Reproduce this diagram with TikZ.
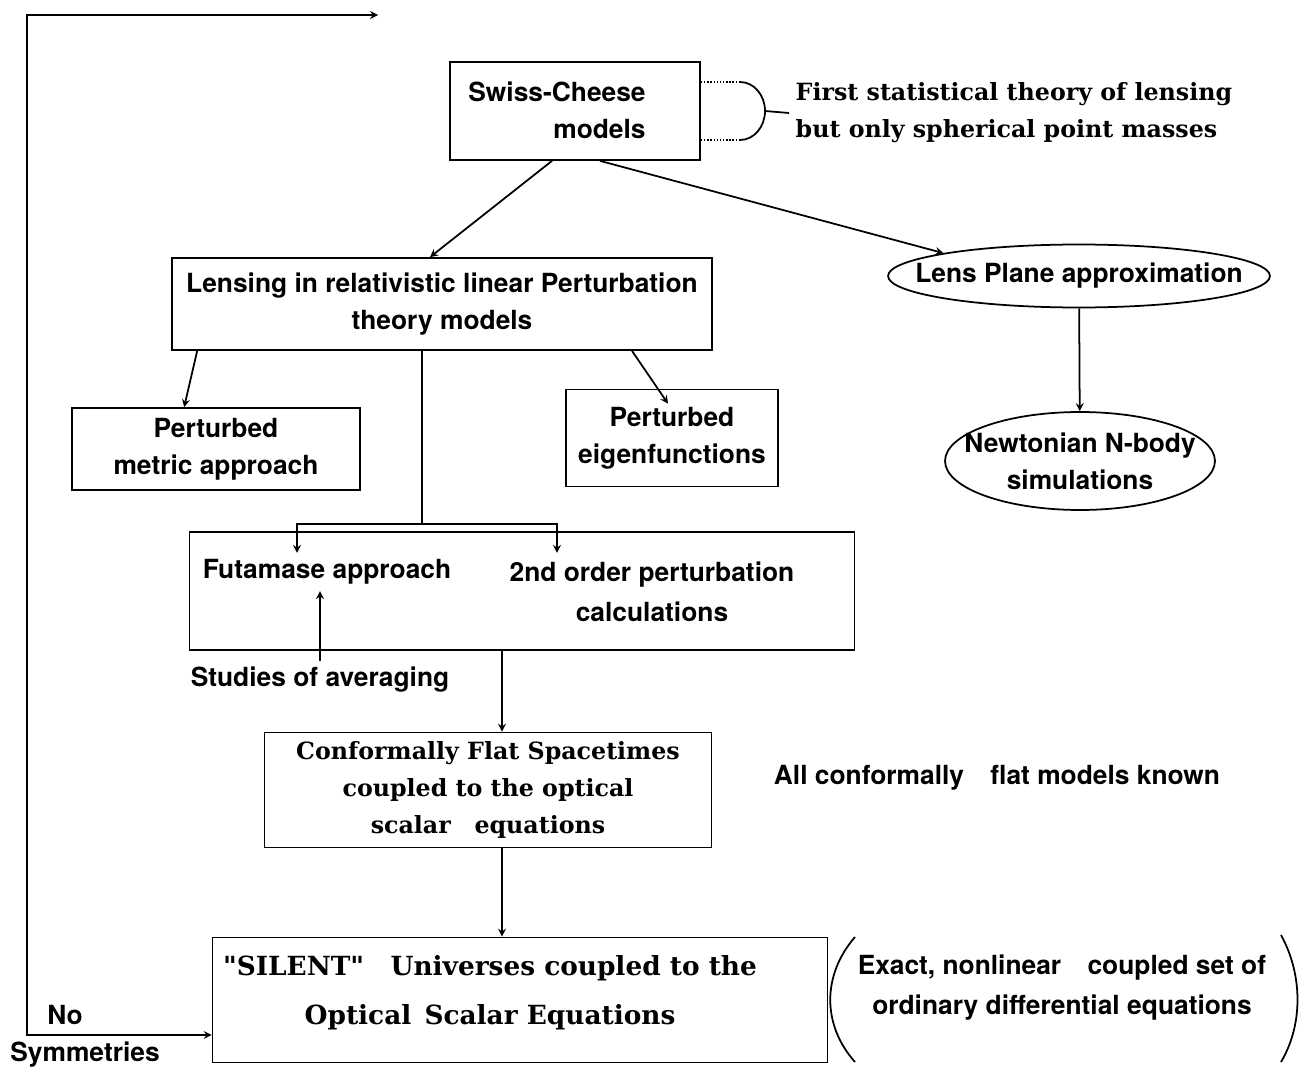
\documentclass[tikz,border=0pt]{standalone}
\usepackage{fontspec}
\setsansfont{TeX Gyre Heros}
\newfontfamily\schoolbold{DejaVu Serif}
\usetikzlibrary{calc}
\usetikzlibrary{positioning}
\usetikzlibrary{arrows}
\usetikzlibrary{shapes.geometric}

\begin{document}
\begin{tikzpicture}[x=0.02cm, y=-0.02cm, ->, >=stealth, draw=black, line width=1pt]
    \tikzstyle{block}=[draw=black,rectangle,inner sep=0pt,align=center]
    \tikzstyle{oval}=[draw=black,ellipse,inner sep=0pt,inner xsep=-1cm,align=center]
    \tikzstyle{sans}=[font=\sffamily\bfseries\fontsize{15}{21}\selectfont,align=center]
    \tikzstyle{serif}=[font=\schoolbold\bfseries\fontsize{13.5}{21}\selectfont,align=center]

    \useasboundingbox (0,0) rectangle (1299,1068);

	\node[block, minimum width=5cm, minimum height=1.96cm] (sc) at (575,111) {};
	\node[sans, align=right] (sctxt) at (557,110) {Swiss-Cheese\\models};
	\node[serif, align=left, anchor=west] (first) at (789,113) {First statistical theory of lensing\\but only spherical point masses};

	\coordinate (dt) at (740,82);
	\coordinate (db) at (740,140);
	\draw[-, densely dotted, line width=0.8pt] (sc.east |- dt) -- (dt);
	\draw[-, densely dotted, line width=0.8pt] (sc.east |- db) -- (db);
	\draw[-] (dt) arc[start angle=90, end angle=0, x radius=0.5cm, y radius=0.58cm] coordinate (apex)
		arc[start angle=0, end angle=-90, x radius=0.5cm, y radius=0.58cm];
	\draw[-] (apex) -- (first.west);

	\node[block, sans, minimum width=10.8cm, minimum height=1.84cm] (lens) at (442,304) {Lensing in relativistic linear Perturbation\\theory models};
	\node[oval, sans, minimum width=7.64cm, minimum height=1.26cm] (lpa) at (1079,276) {Lens Plane approximation};
	\node[oval, sans, minimum width=5.4cm, minimum height=1.96cm] (nb) at (1080,461) {Newtonian N-body\\simulations};

	\path ($(sc.south)+(-23,0)$) edge ($(lens.north)+(-12,0)$);
	\path ($(sc.south)+(25,0)$) edge (lpa.north west);
	\path (lpa) edge (nb);

	\node[block, sans, minimum width=5.76cm, minimum height=1.64cm] (pma) at (216,449) {Perturbed\\metric approach};
	\node[block, sans, minimum width=4.24cm, minimum height=1.94cm] (pef) at (672,438) {Perturbed\\eigenfunctions};

	\path ($(lens.south west)+(26,0)$) edge ($(pma.north west)+(113,0)$);
	\path ($(lens.south)+(190,0)$) edge ($(pef.north)+(-4,15)$);

	\node[block, minimum width=13.3cm, minimum height=2.36cm] (fut) at (522,591) {};
	\node[sans] (futa) at (327,572) {Futamase approach};
	\node[sans] (ord) at (652,592) {2nd order perturbation\\[1.7pt]calculations};
	\node[sans] (avg) at (320,680) {Studies of averaging};

	\coordinate (sp) at (422,524);
	\coordinate (spl) at (297,524);
	\coordinate (spr) at (557,524);
	\draw[-] ($(lens.south)+(-20,0)$) -- (sp);
	\draw[<->] (spl |- futa.north) -- (spl) -- (spr) -- (spr |- futa.north);
	\path (avg.north) edge (avg.north |- futa.south);

	\node[block, serif, minimum width=8.94cm, minimum height=2.3cm] (cf) at (488,790) {Conformally Flat Spacetimes\\coupled to the optical\\scalar\quad equations};
	\node[sans] (known) at (997,778) {All conformally\quad flat models known};

	\coordinate (d1) at ($(fut.south)+(-20,0)$);
	\path (d1) edge (d1 |- cf.north);

	\node[block, minimum width=12.3cm, minimum height=2.5cm] (sil) at (520,1000) {};
	\node[serif, font=\schoolbold\bfseries\fontsize{15}{21}\selectfont] (siltxt) at (490,993) {"SILENT"\quad Universes coupled to the\\[7pt]Optical\enspace Scalar Equations};
	\node[sans] (exact) at (1062,988) {Exact, nonlinear\quad coupled set of\\[1.7pt]ordinary differential equations};

	\coordinate (d2) at ($(cf.south)+(14,0)$);
	\path (d2) edge (d2 |- sil.north);

	% brackets round the note
	\draw[-] (855,937) .. controls (822,975) and (822,1025) .. (855,1062);
	\draw[-] (1281,935) .. controls (1303,975) and (1303,1025) .. (1281,1062);

	\node[sans] (no) at (65,1015) {No};
	\node[sans] (sym) at (85,1055) {Symmetries};

	\coordinate (tl) at (27,15);
	\coordinate (tr) at (378,15);
	\coordinate (bl) at (27,1035);
	\draw[<->] (tr) -- (tl) -- (bl) -- (bl -| sil.west);
\end{tikzpicture}
\end{document}
